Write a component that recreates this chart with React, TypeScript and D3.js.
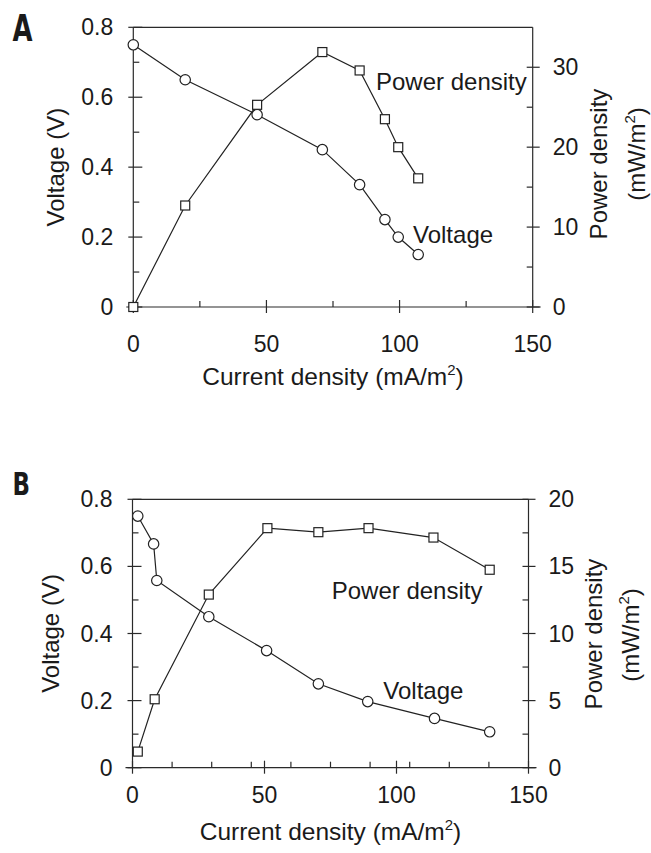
import React from "react";
import * as d3 from "d3";

// ---------- data ----------
const currentA = [0, 19.5, 46.5, 71, 85, 94.5, 99.5, 107];
const voltageA = [0.75, 0.65, 0.55, 0.45, 0.35, 0.25, 0.2, 0.15];
const powerA = [0, 12.7, 25.3, 31.9, 29.6, 23.5, 20.0, 16.1];

const currentBV = [2, 8, 9.2, 28.9, 50.8, 70.4, 89.1, 114.4, 135.3];
const voltageB = [0.75, 0.667, 0.558, 0.45, 0.349, 0.25, 0.197, 0.147, 0.107];
const currentBP = [2, 8.4, 28.9, 51.1, 70.4, 89.4, 114, 135.3];
const powerB = [1.2, 5.1, 12.9, 17.85, 17.55, 17.85, 17.15, 14.75];

const xTicks = [0, 50, 100, 150];
const xMinorA = [25, 75, 125];
const xMinorB = [15, 30, 45, 60, 75, 90, 105, 120, 135];
const voltTicks = [0, 0.2, 0.4, 0.6, 0.8];
const voltTickLabels = ["0", "0.2", "0.4", "0.6", "0.8"];
const voltMinor = [0.1, 0.3, 0.5, 0.7];
const powerTicksA = [0, 10, 20, 30];
const powerMinorA = [5, 15, 25];
const powerTicksB = [0, 5, 10, 15, 20];
const powerMinorB = [2.5, 7.5, 12.5, 17.5];

const FONT = "'Liberation Sans', Arial, Helvetica, sans-serif";
const BOLD_FONT = "'Liberation Sans Narrow', 'DejaVu Sans Condensed', 'Liberation Sans', sans-serif";
const INK = "#1a1a1a";

type PanelCfg = {
  letter: string;
  letterX: number;
  letterY: number;
  letterSize: number;
  letterWidth: number;
  left: number;
  right: number;
  top: number;
  bottom: number;
  powerMax: number;
  vx: number[];
  vy: number[];
  px: number[];
  py: number[];
  xMinor: number[];
  pTicks: number[];
  pMinor: number[];
  xLabelY: number;
  xTitleY: number;
  vLabelX: number;
  pLabelX: number;
  pUnitX: number;
  pLabelCY: number;
  pUnitCY: number;
  powerText: [number, number];
  voltText: [number, number];
};

function Panel({ c }: { c: PanelCfg }) {
  const x = d3.scaleLinear().domain([0, 150]).range([c.left, c.right]);
  const yV = d3.scaleLinear().domain([0, 0.8]).range([c.bottom, c.top]);
  const yP = d3.scaleLinear().domain([0, c.powerMax]).range([c.bottom, c.top]);

  const vPts: [number, number][] = c.vx.map((d, i) => [x(d), yV(c.vy[i])]);
  const pPts: [number, number][] = c.px.map((d, i) => [x(d), yP(c.py[i])]);
  const line = d3.line();
  const midY = (c.top + c.bottom) / 2;

  return (
    <g fontFamily={FONT} fill={INK}>
      <text
        x={c.letterX}
        y={c.letterY}
        fontFamily={BOLD_FONT}
        fontWeight="bold"
        fontSize={c.letterSize}
        textLength={c.letterWidth}
        lengthAdjust="spacingAndGlyphs"
      >
        {c.letter}
      </text>

      {/* frame */}
      <g stroke="#2a2a2a" strokeWidth={1.2} fill="none">
        <line x1={c.left} x2={c.right} y1={c.top} y2={c.top} />
        <line x1={c.left - 7} x2={c.right + 8} y1={c.bottom} y2={c.bottom} />
        <line x1={c.left} x2={c.left} y1={c.top} y2={c.bottom} />
        <line x1={c.right} x2={c.right} y1={c.top} y2={c.bottom} />
        {xTicks.map((t) => (
          <line key={"xt" + t} x1={x(t)} x2={x(t)} y1={c.bottom - 7} y2={c.bottom + 6} />
        ))}
        {c.xMinor.map((t) => (
          <line key={"xm" + t} x1={x(t)} x2={x(t)} y1={c.bottom - 6} y2={c.bottom} />
        ))}
        {voltTicks.map((t) => (
          <line key={"vt" + t} x1={c.left - 5} x2={c.left + 9} y1={yV(t)} y2={yV(t)} />
        ))}
        {voltMinor.map((t) => (
          <line key={"vm" + t} x1={c.left} x2={c.left + 6} y1={yV(t)} y2={yV(t)} />
        ))}
        {c.pTicks.map((t) => (
          <line key={"pt" + t} x1={c.right - 6} x2={c.right + 7} y1={yP(t)} y2={yP(t)} />
        ))}
        {c.pMinor.map((t) => (
          <line key={"pm" + t} x1={c.right - 6} x2={c.right} y1={yP(t)} y2={yP(t)} />
        ))}
      </g>

      {/* tick labels */}
      {xTicks.map((t) => (
        <text key={"xl" + t} x={x(t)} y={c.xLabelY} fontSize={23} textAnchor="middle">
          {t}
        </text>
      ))}
      {voltTicks.map((t, i) => (
        <text key={"vl" + t} x={c.left - 20} y={yV(t) + 8} fontSize={23} textAnchor="end">
          {voltTickLabels[i]}
        </text>
      ))}
      {c.pTicks.map((t) => (
        <text key={"pl" + t} x={c.right + 20} y={yP(t) + 8} fontSize={23} textAnchor="start">
          {t}
        </text>
      ))}

      {/* axis titles */}
      <text x={(c.left + c.right) / 2} y={c.xTitleY} fontSize={24.5} textAnchor="middle">
        Current density (mA/m
        <tspan fontSize={15} dy={-10}>2</tspan>
        <tspan dy={10}>)</tspan>
      </text>
      <text
        transform={`translate(${c.vLabelX},${midY}) rotate(-90)`}
        fontSize={24}
        textAnchor="middle"
      >
        Voltage (V)
      </text>
      <text
        transform={`translate(${c.pLabelX},${c.pLabelCY}) rotate(-90)`}
        fontSize={24}
        textAnchor="middle"
      >
        Power density
      </text>
      <text
        transform={`translate(${c.pUnitX},${c.pUnitCY}) rotate(-90)`}
        fontSize={24}
        textAnchor="middle"
      >
        (mW/m
        <tspan fontSize={15} dy={-10}>2</tspan>
        <tspan dy={10}>)</tspan>
      </text>

      {/* series */}
      <path d={line(vPts) || ""} fill="none" stroke="#222" strokeWidth={1.2} />
      <path d={line(pPts) || ""} fill="none" stroke="#222" strokeWidth={1.2} />
      {vPts.map(([cx, cy], i) => (
        <circle key={"vc" + i} cx={cx} cy={cy} r={5.2} fill="#fff" stroke="#222" strokeWidth={1.2} />
      ))}
      {pPts.map(([cx, cy], i) => (
        <rect
          key={"pr" + i}
          x={cx - 4.5}
          y={cy - 4.5}
          width={9}
          height={9}
          fill="#fff"
          stroke="#222"
          strokeWidth={1.2}
        />
      ))}

      {/* in-plot labels */}
      <text x={c.powerText[0]} y={c.powerText[1]} fontSize={24}>
        Power density
      </text>
      <text x={c.voltText[0]} y={c.voltText[1]} fontSize={24}>
        Voltage
      </text>
    </g>
  );
}

const panelA: PanelCfg = {
  letter: "A",
  letterX: 12.5,
  letterY: 41,
  letterSize: 38,
  letterWidth: 20,
  left: 133.3,
  right: 532.7,
  top: 27.3,
  bottom: 307,
  powerMax: 35,
  vx: currentA,
  vy: voltageA,
  px: currentA,
  py: powerA,
  xMinor: xMinorA,
  pTicks: powerTicksA,
  pMinor: powerMinorA,
  xLabelY: 352,
  xTitleY: 385,
  vLabelX: 64,
  pLabelX: 607,
  pUnitX: 645,
  pLabelCY: 164,
  pUnitCY: 154,
  powerText: [376, 90],
  voltText: [413, 242.5],
};

const panelB: PanelCfg = {
  letter: "B",
  letterX: 12.5,
  letterY: 495,
  letterSize: 32,
  letterWidth: 17.5,
  left: 132.5,
  right: 528.5,
  top: 499.3,
  bottom: 767.7,
  powerMax: 20,
  vx: currentBV,
  vy: voltageB,
  px: currentBP,
  py: powerB,
  xMinor: xMinorB,
  pTicks: powerTicksB,
  pMinor: powerMinorB,
  xLabelY: 803,
  xTitleY: 840,
  vLabelX: 59,
  pLabelX: 602,
  pUnitX: 639,
  pLabelCY: 634,
  pUnitCY: 635,
  powerText: [331.7, 599],
  voltText: [383.3, 699.3],
};

export default function App() {
  return (
    <svg
      width={651}
      height={853}
      viewBox="0 0 651 853"
      style={{ position: "absolute", left: 0, top: 0, background: "#fff" }}
    >
      <rect x={0} y={0} width={651} height={853} fill="#fff" />
      <Panel c={panelA} />
      <Panel c={panelB} />
    </svg>
  );
}
